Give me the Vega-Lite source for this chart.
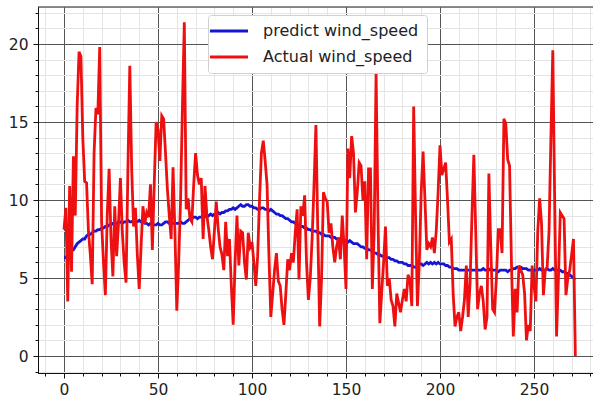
{
  "$schema": "https://vega.github.io/schema/vega-lite/v6.json",
  "width": 555,
  "height": 366,
  "autosize": {"type": "none"},
  "padding": {"left": 38, "top": 7, "right": 0, "bottom": 28},
  "background": "white",
  "config": {
    "view": {"stroke": null},
    "font": "DejaVu Sans",
    "axis": {"labelFont": "DejaVu Sans", "labelFontSize": 15.5, "labelColor": "#222", "domainColor": "#111", "domainWidth": 1, "tickColor": "#111", "title": null, "labelOverlap": false, "gridDash": [], "gridOpacity": 1}
  },
  "datasets": {
    "wind": [
    {"x":0,"p":6.3,"a":8.1},{"x":1,"p":6.3,"a":9.5},{"x":2,"p":6.5,"a":3.5},{"x":3,"p":6.6,"a":10.9},{"x":4,"p":6.8,"a":5.4},
    {"x":5,"p":6.8,"a":12.8},{"x":6,"p":7.0,"a":9.0},{"x":7,"p":7.2,"a":16.0},{"x":8,"p":7.3,"a":19.5},{"x":9,"p":7.4,"a":19.2},
    {"x":10,"p":7.5,"a":14.0},{"x":11,"p":7.5,"a":11.2},{"x":12,"p":7.7,"a":11.1},{"x":13,"p":7.8,"a":8.0},{"x":14,"p":7.8,"a":6.5},
    {"x":15,"p":7.9,"a":4.6},{"x":16,"p":8.0,"a":13.0},{"x":17,"p":8.0,"a":15.9},{"x":18,"p":8.1,"a":15.5},{"x":19,"p":8.1,"a":19.8},
    {"x":20,"p":8.2,"a":8.6},{"x":21,"p":8.2,"a":6.0},{"x":22,"p":8.3,"a":3.9},{"x":23,"p":8.3,"a":9.0},{"x":24,"p":8.4,"a":12.0},
    {"x":25,"p":8.4,"a":7.5},{"x":26,"p":8.5,"a":5.1},{"x":27,"p":8.5,"a":9.6},{"x":28,"p":8.5,"a":6.4},{"x":29,"p":8.6,"a":8.5},
    {"x":30,"p":8.6,"a":11.4},{"x":31,"p":8.5,"a":8.0},{"x":32,"p":8.6,"a":6.0},{"x":33,"p":8.6,"a":4.7},{"x":34,"p":8.7,"a":12.0},
    {"x":35,"p":8.6,"a":18.6},{"x":36,"p":8.6,"a":12.0},{"x":37,"p":8.7,"a":8.3},{"x":38,"p":8.6,"a":9.5},{"x":39,"p":8.6,"a":6.5},
    {"x":40,"p":8.7,"a":4.3},{"x":41,"p":8.6,"a":7.0},{"x":42,"p":8.6,"a":9.6},{"x":43,"p":8.5,"a":8.5},{"x":44,"p":8.5,"a":9.2},
    {"x":45,"p":8.4,"a":8.9},{"x":46,"p":8.5,"a":11.0},{"x":47,"p":8.4,"a":6.8},{"x":48,"p":8.4,"a":11.0},{"x":49,"p":8.4,"a":15.0},
    {"x":50,"p":8.5,"a":14.5},{"x":51,"p":8.4,"a":12.5},{"x":52,"p":8.4,"a":15.4},{"x":53,"p":8.5,"a":15.2},{"x":54,"p":8.6,"a":13.0},
    {"x":55,"p":8.6,"a":10.7},{"x":56,"p":8.5,"a":9.0},{"x":57,"p":8.6,"a":7.5},{"x":58,"p":8.5,"a":12.1},{"x":59,"p":8.5,"a":8.0},
    {"x":60,"p":8.5,"a":2.9},{"x":61,"p":8.5,"a":6.0},{"x":62,"p":8.6,"a":10.0},{"x":63,"p":8.5,"a":16.0},{"x":64,"p":8.5,"a":21.4},
    {"x":65,"p":8.6,"a":9.4},{"x":66,"p":8.7,"a":10.1},{"x":67,"p":8.8,"a":8.8},{"x":68,"p":8.8,"a":8.6},{"x":69,"p":8.9,"a":11.0},
    {"x":70,"p":8.9,"a":13.0},{"x":71,"p":8.8,"a":11.6},{"x":72,"p":8.9,"a":11.0},{"x":73,"p":8.9,"a":11.4},{"x":74,"p":9.0,"a":7.5},
    {"x":75,"p":9.0,"a":10.9},{"x":76,"p":8.9,"a":9.0},{"x":77,"p":9.0,"a":8.1},{"x":78,"p":9.1,"a":7.0},{"x":79,"p":9.0,"a":6.2},
    {"x":80,"p":9.1,"a":8.0},{"x":81,"p":9.1,"a":9.9},{"x":82,"p":9.2,"a":8.2},{"x":83,"p":9.1,"a":7.0},{"x":84,"p":9.2,"a":6.5},
    {"x":85,"p":9.2,"a":5.5},{"x":86,"p":9.3,"a":8.6},{"x":87,"p":9.3,"a":6.4},{"x":88,"p":9.4,"a":7.5},{"x":89,"p":9.4,"a":4.5},
    {"x":90,"p":9.5,"a":2.0},{"x":91,"p":9.4,"a":6.0},{"x":92,"p":9.5,"a":9.0},{"x":93,"p":9.6,"a":5.8},{"x":94,"p":9.7,"a":8.0},
    {"x":95,"p":9.6,"a":7.9},{"x":96,"p":9.6,"a":6.0},{"x":97,"p":9.7,"a":4.9},{"x":98,"p":9.7,"a":7.9},{"x":99,"p":9.6,"a":7.0},
    {"x":100,"p":9.6,"a":7.3},{"x":101,"p":9.5,"a":6.0},{"x":102,"p":9.5,"a":4.5},{"x":103,"p":9.4,"a":6.4},{"x":104,"p":9.4,"a":10.0},
    {"x":105,"p":9.5,"a":13.0},{"x":106,"p":9.5,"a":13.8},{"x":107,"p":9.4,"a":12.5},{"x":108,"p":9.4,"a":11.0},{"x":109,"p":9.3,"a":6.5},
    {"x":110,"p":9.4,"a":2.5},{"x":111,"p":9.3,"a":4.0},{"x":112,"p":9.2,"a":5.5},{"x":113,"p":9.1,"a":6.6},{"x":114,"p":9.1,"a":4.8},
    {"x":115,"p":9.0,"a":4.5},{"x":116,"p":9.0,"a":3.0},{"x":117,"p":8.9,"a":2.0},{"x":118,"p":8.8,"a":4.0},{"x":119,"p":8.8,"a":6.2},
    {"x":120,"p":8.7,"a":5.5},{"x":121,"p":8.6,"a":6.6},{"x":122,"p":8.6,"a":6.0},{"x":123,"p":8.5,"a":7.9},{"x":124,"p":8.4,"a":9.4},
    {"x":125,"p":8.4,"a":4.9},{"x":126,"p":8.3,"a":9.6},{"x":127,"p":8.3,"a":9.0},{"x":128,"p":8.2,"a":10.3},{"x":129,"p":8.2,"a":6.0},
    {"x":130,"p":8.1,"a":3.6},{"x":131,"p":8.1,"a":5.0},{"x":132,"p":8.0,"a":7.6},{"x":133,"p":8.0,"a":11.0},{"x":134,"p":8.0,"a":14.8},
    {"x":135,"p":7.9,"a":8.0},{"x":136,"p":7.9,"a":1.9},{"x":137,"p":7.8,"a":5.0},{"x":138,"p":7.8,"a":10.5},{"x":139,"p":7.7,"a":10.1},
    {"x":140,"p":7.7,"a":9.9},{"x":141,"p":7.7,"a":7.9},{"x":142,"p":7.6,"a":8.5},{"x":143,"p":7.6,"a":7.0},{"x":144,"p":7.6,"a":6.0},
    {"x":145,"p":7.5,"a":7.0},{"x":146,"p":7.5,"a":7.6},{"x":147,"p":7.5,"a":6.2},{"x":148,"p":7.4,"a":9.0},{"x":149,"p":7.4,"a":7.0},
    {"x":150,"p":7.4,"a":4.3},{"x":151,"p":7.3,"a":13.3},{"x":152,"p":7.4,"a":11.4},{"x":153,"p":7.3,"a":14.1},{"x":154,"p":7.2,"a":13.0},
    {"x":155,"p":7.2,"a":9.2},{"x":156,"p":7.2,"a":10.5},{"x":157,"p":7.1,"a":12.4},{"x":158,"p":7.0,"a":12.2},{"x":159,"p":7.0,"a":10.0},
    {"x":160,"p":6.9,"a":11.2},{"x":161,"p":6.9,"a":6.2},{"x":162,"p":6.8,"a":12.0},{"x":163,"p":6.8,"a":12.0},{"x":164,"p":6.7,"a":4.3},
    {"x":165,"p":6.6,"a":8.0},{"x":166,"p":6.6,"a":18.1},{"x":167,"p":6.5,"a":9.0},{"x":168,"p":6.5,"a":2.1},{"x":169,"p":6.4,"a":4.1},
    {"x":170,"p":6.4,"a":6.0},{"x":171,"p":6.3,"a":8.3},{"x":172,"p":6.3,"a":4.5},{"x":173,"p":6.3,"a":5.0},{"x":174,"p":6.2,"a":3.6},
    {"x":175,"p":6.2,"a":3.2},{"x":176,"p":6.1,"a":1.9},{"x":177,"p":6.1,"a":4.0},{"x":178,"p":6.0,"a":3.4},{"x":179,"p":6.0,"a":2.8},
    {"x":180,"p":6.0,"a":3.6},{"x":181,"p":5.9,"a":4.3},{"x":182,"p":5.9,"a":3.5},{"x":183,"p":5.8,"a":5.2},{"x":184,"p":5.8,"a":4.9},
    {"x":185,"p":5.8,"a":3.2},{"x":186,"p":5.7,"a":16.0},{"x":187,"p":5.7,"a":9.0},{"x":188,"p":5.8,"a":3.2},{"x":189,"p":5.9,"a":6.0},
    {"x":190,"p":5.9,"a":10.5},{"x":191,"p":5.8,"a":13.1},{"x":192,"p":5.9,"a":10.0},{"x":193,"p":6.0,"a":6.8},{"x":194,"p":5.9,"a":7.2},
    {"x":195,"p":6.0,"a":7.0},{"x":196,"p":5.9,"a":7.6},{"x":197,"p":6.0,"a":6.6},{"x":198,"p":5.9,"a":8.0},{"x":199,"p":6.0,"a":10.5},
    {"x":200,"p":5.9,"a":13.5},{"x":201,"p":5.9,"a":11.6},{"x":202,"p":5.9,"a":12.0},{"x":203,"p":5.8,"a":12.4},{"x":204,"p":5.8,"a":10.0},
    {"x":205,"p":5.7,"a":7.3},{"x":206,"p":5.7,"a":7.5},{"x":207,"p":5.6,"a":4.0},{"x":208,"p":5.6,"a":1.9},{"x":209,"p":5.6,"a":2.5},
    {"x":210,"p":5.5,"a":2.8},{"x":211,"p":5.5,"a":1.6},{"x":212,"p":5.5,"a":2.5},{"x":213,"p":5.5,"a":3.6},{"x":214,"p":5.5,"a":5.8},
    {"x":215,"p":5.5,"a":2.5},{"x":216,"p":5.5,"a":4.7},{"x":217,"p":5.5,"a":9.0},{"x":218,"p":5.5,"a":12.9},{"x":219,"p":5.5,"a":8.0},
    {"x":220,"p":5.5,"a":3.0},{"x":221,"p":5.5,"a":4.0},{"x":222,"p":5.5,"a":4.5},{"x":223,"p":5.6,"a":3.5},{"x":224,"p":5.5,"a":1.7},
    {"x":225,"p":5.5,"a":2.5},{"x":226,"p":5.5,"a":11.7},{"x":227,"p":5.6,"a":7.0},{"x":228,"p":5.5,"a":3.0},{"x":229,"p":5.5,"a":2.8},
    {"x":230,"p":5.5,"a":5.0},{"x":231,"p":5.4,"a":8.1},{"x":232,"p":5.5,"a":8.1},{"x":233,"p":5.5,"a":6.6},{"x":234,"p":5.5,"a":15.2},
    {"x":235,"p":5.5,"a":14.9},{"x":236,"p":5.4,"a":12.6},{"x":237,"p":5.5,"a":12.2},{"x":238,"p":5.5,"a":6.0},{"x":239,"p":5.6,"a":1.25},
    {"x":240,"p":5.6,"a":4.3},{"x":241,"p":5.7,"a":2.8},{"x":242,"p":5.7,"a":5.8},{"x":243,"p":5.7,"a":5.5},{"x":244,"p":5.6,"a":5.2},
    {"x":245,"p":5.6,"a":4.0},{"x":246,"p":5.6,"a":1.0},{"x":247,"p":5.5,"a":2.0},{"x":248,"p":5.5,"a":1.6},{"x":249,"p":5.5,"a":5.8},
    {"x":250,"p":5.5,"a":4.5},{"x":251,"p":5.5,"a":3.5},{"x":252,"p":5.5,"a":8.0},{"x":253,"p":5.6,"a":10.1},{"x":254,"p":5.5,"a":8.5},
    {"x":255,"p":5.5,"a":3.9},{"x":256,"p":5.5,"a":5.5},{"x":257,"p":5.6,"a":5.7},{"x":258,"p":5.5,"a":8.0},{"x":259,"p":5.5,"a":14.0},
    {"x":260,"p":5.6,"a":19.6},{"x":261,"p":5.5,"a":10.0},{"x":262,"p":5.5,"a":1.25},{"x":263,"p":5.5,"a":5.0},{"x":264,"p":5.5,"a":9.2},
    {"x":265,"p":5.4,"a":9.0},{"x":266,"p":5.4,"a":8.8},{"x":267,"p":5.3,"a":3.9},{"x":268,"p":5.3,"a":5.0},{"x":269,"p":5.2,"a":5.5},
    {"x":270,"p":5.1,"a":6.5},{"x":271,"p":5.0,"a":7.5},{"x":272,"p":4.9,"a":0.0}
    ],
    "frame": [{"top": 22.37}]
  },
  "layer": [
    {
      "data": {"name": "wind"},
      "mark": {"type": "line", "strokeWidth": 2.8, "clip": true},
      "encoding": {
        "y": {"field": "p", "type": "quantitative",
          "scale": {"domain": [-1.0897, 22.3718], "nice": false, "zero": false},
          "axis": {"orient": "left", "values": [-1,1,2,3,4,6,7,8,9,11,12,13,14,16,17,18,19,21,22],
            "labels": false, "grid": true, "gridColor": "#e4e4e4", "tickSize": 3}},
        "x": {"field": "x", "type": "quantitative",
          "scale": {"domain": [-13.8298, 281.383], "nice": false, "zero": false},
          "axis": {"orient": "bottom",
            "values": [-10,10,20,30,40,60,70,80,90,110,120,130,140,160,170,180,190,210,220,230,240,260,270,280],
            "labels": false, "grid": true, "gridColor": "#e4e4e4", "tickSize": 3}},
        "color": {"datum": "predict wind_speed", "type": "nominal",
          "scale": {"domain": ["predict wind_speed", "Actual wind_speed"], "range": ["#1515d6", "#ee1010"]},
          "legend": {"orient": "none", "legendX": 170, "legendY": 8, "title": null,
            "symbolType": "M-5,0H5", "symbolSize": 58, "symbolStrokeWidth": 3, "symbolOffset": 5,
            "labelFont": "DejaVu Sans", "labelFontSize": 16, "labelColor": "#222", "labelOffset": 26,
            "fillColor": "white", "strokeColor": "#d0d0d0", "cornerRadius": 3, "padding": 8, "rowPadding": 10}}
      }
    },
    {
      "data": {"name": "wind"},
      "mark": {"type": "line", "strokeWidth": 2.8, "clip": true},
      "encoding": {
        "y": {"field": "a", "type": "quantitative",
          "axis": {"orient": "left", "values": [0, 5, 10, 15, 20], "grid": true, "gridColor": "#555555", "gridDash": [], "tickSize": 5, "labelPadding": 5}},
        "x": {"field": "x", "type": "quantitative",
          "axis": {"orient": "bottom", "values": [0, 50, 100, 150, 200, 250], "grid": true, "gridColor": "#555555", "gridDash": [], "tickSize": 5, "labelPadding": 4}},
        "color": {"datum": "Actual wind_speed", "type": "nominal"}
      }
    },
    {
      "data": {"name": "frame"},
      "mark": {"type": "rule", "color": "#111111", "strokeWidth": 1},
      "encoding": {
        "y": {"field": "top", "type": "quantitative", "axis": null}
      }
    }
  ],
  "resolve": {"axis": {"x": "independent", "y": "independent"}}
}
